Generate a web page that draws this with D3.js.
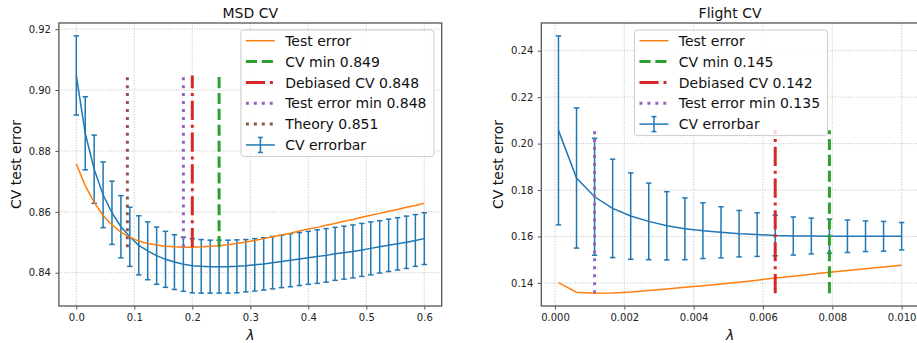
<!DOCTYPE html>
<html>
<head>
<meta charset="utf-8">
<script src="https://cdn.jsdelivr.net/npm/d3@7"></script>
<style>
  body { margin: 0; background: #fff; overflow: hidden; }
  text { font-family: "DejaVu Sans", sans-serif; }
</style>
</head>
<body>
<script>
/* DATA */
// MSD panel
var msdLambda = [0, 0.0154, 0.0308, 0.0462, 0.0615, 0.0769, 0.0923, 0.1077, 0.1231, 0.1385,
  0.1538, 0.1692, 0.1846, 0.2, 0.2154, 0.2308, 0.2462, 0.2615, 0.2769, 0.2923,
  0.3077, 0.3231, 0.3385, 0.3538, 0.3692, 0.3846, 0.4, 0.4154, 0.4308, 0.4462,
  0.4615, 0.4769, 0.4923, 0.5077, 0.5231, 0.5385, 0.5538, 0.5692, 0.5846, 0.6];
var msdCv = [0.9048, 0.8858, 0.874, 0.8656, 0.8597, 0.8551, 0.8518, 0.849, 0.8472, 0.8456,
  0.8444, 0.8435, 0.8428, 0.8423, 0.8421, 0.842, 0.842, 0.842, 0.8421, 0.8423,
  0.8426, 0.8429, 0.8433, 0.8437, 0.8441, 0.8445, 0.8449, 0.8453, 0.8457, 0.8462,
  0.8466, 0.847, 0.8475, 0.848, 0.8485, 0.849, 0.8495, 0.85, 0.8506, 0.8512];
var msdCvErr = [0.013, 0.012, 0.0112, 0.0108, 0.0104, 0.0102, 0.0097, 0.0097, 0.0095, 0.0094,
  0.0092, 0.009, 0.0089, 0.0089, 0.0088, 0.0087, 0.0087, 0.0087, 0.0087, 0.0086,
  0.0086, 0.0086, 0.0086, 0.0086, 0.0087, 0.0087, 0.0087, 0.0088, 0.0088, 0.0087,
  0.0087, 0.0087, 0.0087, 0.0087, 0.0086, 0.0086, 0.0086, 0.0086, 0.0085, 0.0085];
var msdTest = [0.8757, 0.8686, 0.8631, 0.8588, 0.8557, 0.8533, 0.8517, 0.8504, 0.8496, 0.8491,
  0.8487, 0.8485, 0.8484, 0.8484, 0.8485, 0.8487, 0.8489, 0.8492, 0.8496, 0.8501,
  0.8506, 0.8512, 0.8518, 0.8524, 0.853, 0.8537, 0.8544, 0.8549, 0.8556, 0.8562,
  0.8569, 0.8575, 0.8582, 0.8589, 0.8595, 0.8602, 0.8608, 0.8615, 0.8621, 0.8628];
var msdMarkLabels = ["CV min 0.849", "Debiased CV 0.848", "Test error min 0.848", "Theory 0.851"];
var msdMarkX = [0.2462, 0.2, 0.1846, 0.088];
var msdXTicks = [0, 0.1, 0.2, 0.3, 0.4, 0.5, 0.6];
var msdYTicks = [0.84, 0.86, 0.88, 0.90, 0.92];

// Flight panel
var flightLambda = [0.0001, 0.000621, 0.001142, 0.001663, 0.002184, 0.002705, 0.003226, 0.003747,
  0.004268, 0.004789, 0.00531, 0.005832, 0.006353, 0.006874, 0.007395, 0.007916, 0.008437,
  0.008958, 0.009479, 0.01];
var flightCv = [0.2057, 0.1852, 0.1771, 0.1721, 0.1688, 0.1665, 0.1646, 0.1633, 0.1625, 0.1618,
  0.1612, 0.1608, 0.1604, 0.1602, 0.1602, 0.1601, 0.1601, 0.1601, 0.1601, 0.1601];
var flightCvErr = [0.0407, 0.0302, 0.0252, 0.0212, 0.0186, 0.0165, 0.0147, 0.0133, 0.012, 0.011,
  0.01, 0.0094, 0.0087, 0.0082, 0.0077, 0.0073, 0.007, 0.0066, 0.0064, 0.0059];
var flightTest = [0.1401, 0.136, 0.1356, 0.1357, 0.1361, 0.1367, 0.1374, 0.1381, 0.1388, 0.1395,
  0.1403, 0.1412, 0.1421, 0.1429, 0.1437, 0.1446, 0.1454, 0.1461, 0.1469, 0.1476];
var flightMarkLabels = ["CV min 0.145", "Debiased CV 0.142", "Test error min 0.135"];
var flightMarkX = [0.007916, 0.006353, 0.001142];
var flightXTicks = [0, 0.002, 0.004, 0.006, 0.008, 0.010];
var flightYTicks = [0.14, 0.16, 0.18, 0.20, 0.22, 0.24];

/* STYLES */
var blue = "#1f77b4", orange = "#ff7f0e";
// one style per vertical marker, in label order
var markStyles = [
  {color: "#2ca02c", dash: "11.1,4.8"},
  {color: "#d62728", dash: "19.2,4.8,3,4.8"},
  {color: "#9467bd", dash: "3,4.95"},
  {color: "#8c564b", dash: "3,4.95"}
];
var spineColor = "#555";

var svg = d3.select("body").append("svg")
  .attr("width", 917)
  .attr("height", 343);

function drawPanel(p) {
  var x = d3.scaleLinear().range([p.x0, p.x1]);
  var y = d3.scaleLinear().range([p.y1, p.y0]);

  // matplotlib style 5% margins
  var xe = d3.extent(p.lambda);
  var xpad = (xe[1] - xe[0]) * 0.05;
  x.domain([xe[0] - xpad, xe[1] + xpad]);
  var lows = p.cv.map(function(d, i) { return d - p.err[i]; });
  var highs = p.cv.map(function(d, i) { return d + p.err[i]; });
  var ylo = Math.min(d3.min(lows), d3.min(p.test));
  var yhi = Math.max(d3.max(highs), d3.max(p.test));
  var ypad = (yhi - ylo) * 0.05;
  y.domain([ylo - ypad, yhi + ypad]);

  var g = svg.append("g");

  // grid
  g.selectAll(".gx").data(p.xTicks).enter().append("line")
    .attr("x1", function(d) { return x(d); }).attr("x2", function(d) { return x(d); })
    .attr("y1", p.y0).attr("y2", p.y1)
    .attr("stroke", "#b0b0b0").attr("stroke-width", 0.8).attr("stroke-dasharray", "1,1.6");
  g.selectAll(".gy").data(p.yTicks).enter().append("line")
    .attr("x1", p.x0).attr("x2", p.x1)
    .attr("y1", function(d) { return y(d); }).attr("y2", function(d) { return y(d); })
    .attr("stroke", "#b0b0b0").attr("stroke-width", 0.8).attr("stroke-dasharray", "1,1.6");

  // error bars
  var eb = g.append("g").attr("stroke", blue).attr("stroke-width", 1.5);
  p.lambda.forEach(function(l, i) {
    var cx = x(l);
    eb.append("line").attr("x1", cx).attr("x2", cx).attr("y1", y(lows[i])).attr("y2", y(highs[i]));
    eb.append("line").attr("x1", cx - 2.7).attr("x2", cx + 2.7).attr("y1", y(lows[i])).attr("y2", y(lows[i]));
    eb.append("line").attr("x1", cx - 2.7).attr("x2", cx + 2.7).attr("y1", y(highs[i])).attr("y2", y(highs[i]));
  });
  var line = d3.line().x(function(d) { return x(d[0]); }).y(function(d) { return y(d[1]); });
  g.append("path")
    .attr("d", line(d3.zip(p.lambda, p.cv)))
    .attr("fill", "none").attr("stroke", blue).attr("stroke-width", 1.5);

  // test error
  g.append("path")
    .attr("d", line(d3.zip(p.lambda, p.test)))
    .attr("fill", "none").attr("stroke", orange).attr("stroke-width", 1.5);

  // vertical markers span min test error .. max cv
  var vlo = d3.min(p.test), vhi = d3.max(p.cv);
  p.markX.forEach(function(mx, i) {
    g.append("line")
      .attr("x1", x(mx)).attr("x2", x(mx))
      .attr("y1", y(vlo)).attr("y2", y(vhi))
      .attr("stroke", markStyles[i].color).attr("stroke-width", 3)
      .attr("stroke-dasharray", markStyles[i].dash);
  });

  // spines
  g.append("rect")
    .attr("x", p.x0).attr("y", p.y0)
    .attr("width", p.x1 - p.x0).attr("height", p.y1 - p.y0)
    .attr("fill", "none").attr("stroke", spineColor).attr("stroke-width", 1.3);

  // axes
  var xAxis = g.append("g")
    .attr("transform", "translate(0," + p.y1 + ")")
    .call(d3.axisBottom(x).tickValues(p.xTicks).tickFormat(d3.format(p.xFmt)).tickSize(3.5).tickPadding(4.5));
  var yAxis = g.append("g")
    .attr("transform", "translate(" + p.x0 + ",0)")
    .call(d3.axisLeft(y).tickValues(p.yTicks).tickFormat(d3.format(".2f")).tickSize(3.5).tickPadding(4.5));
  [xAxis, yAxis].forEach(function(a) {
    a.select(".domain").remove();
    a.selectAll("line").attr("stroke", spineColor).attr("stroke-width", 1);
    a.selectAll("text").attr("fill", "#222").style("font-size", "10px")
      .style("font-family", "'DejaVu Sans', sans-serif");
  });

  // titles and labels
  var cx = (p.x0 + p.x1) / 2;
  if (p.clipRight) cx = p.titleX;
  g.append("text").attr("x", cx).attr("y", 17.5)
    .attr("text-anchor", "middle").style("font-size", "14px").attr("fill", "#111")
    .text(p.title);
  g.append("text").attr("x", cx).attr("y", 339.5)
    .attr("text-anchor", "middle").style("font-size", "14px").style("font-style", "italic")
    .attr("fill", "#111").text("λ");
  g.append("text")
    .attr("transform", "translate(" + (p.x0 - 38) + "," + ((p.y0 + p.y1) / 2) + ") rotate(-90)")
    .attr("text-anchor", "middle").style("font-size", "14px").attr("fill", "#111")
    .text("CV test error");

  // legend
  var entries = [{label: "Test error", kind: "test"}];
  p.markLabels.forEach(function(l, i) { entries.push({label: l, kind: "mark", i: i}); });
  entries.push({label: "CV errorbar", kind: "err"});

  var lg = g.append("g");
  var box = lg.append("rect");
  var rowH = 20.85, top = p.y0 + 7;
  var texts = [];
  entries.forEach(function(e, k) {
    var ry = top + 10.7 + k * rowH;
    var row = lg.append("g").attr("class", "lrow").attr("data-y", ry);
    if (e.kind === "test") {
      row.append("line").attr("x1", 5).attr("x2", 34).attr("y1", ry).attr("y2", ry)
        .attr("stroke", orange).attr("stroke-width", 1.5);
    } else if (e.kind === "mark") {
      row.append("line").attr("x1", 5).attr("x2", 34).attr("y1", ry).attr("y2", ry)
        .attr("stroke", markStyles[e.i].color).attr("stroke-width", 3)
        .attr("stroke-dasharray", markStyles[e.i].dash);
    } else {
      row.append("line").attr("x1", 5).attr("x2", 34).attr("y1", ry).attr("y2", ry)
        .attr("stroke", blue).attr("stroke-width", 1.5);
      row.append("line").attr("x1", 19.5).attr("x2", 19.5).attr("y1", ry - 7.5).attr("y2", ry + 7.5)
        .attr("stroke", blue).attr("stroke-width", 1.5);
      row.append("line").attr("x1", 17).attr("x2", 22).attr("y1", ry - 7.5).attr("y2", ry - 7.5)
        .attr("stroke", blue).attr("stroke-width", 1.5);
      row.append("line").attr("x1", 17).attr("x2", 22).attr("y1", ry + 7.5).attr("y2", ry + 7.5)
        .attr("stroke", blue).attr("stroke-width", 1.5);
    }
    var t = row.append("text").attr("x", 44.3).attr("y", ry + 5.1)
      .style("font-size", "14px").attr("fill", "#111").text(e.label);
    texts.push(t);
  });
  var maxLen = d3.max(texts, function(t) { return t.node().getComputedTextLength(); });
  var w = 44.3 + maxLen + 7.5;
  var h = 10.7 + (entries.length - 1) * rowH + 11.5;
  var lx = p.legendAlign === "right" ? p.x1 - 7.7 - w : p.legendCenter - w / 2;
  box.attr("x", 0).attr("y", top).attr("width", w).attr("height", h)
    .attr("rx", 3).attr("fill", "#fff").attr("fill-opacity", 0.8)
    .attr("stroke", "#cccccc").attr("stroke-width", 1);
  lg.attr("transform", "translate(" + lx + ",0)");
}

drawPanel({
  title: "MSD CV",
  lambda: msdLambda, cv: msdCv, err: msdCvErr, test: msdTest,
  markLabels: msdMarkLabels, markX: msdMarkX,
  xTicks: msdXTicks, yTicks: msdYTicks, xFmt: ".1f",
  x0: 58.9, x1: 441.7, y0: 23, y1: 306,
  legendAlign: "right"
});

drawPanel({
  title: "Flight CV",
  lambda: flightLambda, cv: flightCv, err: flightCvErr, test: flightTest,
  markLabels: flightMarkLabels, markX: flightMarkX,
  xTicks: flightXTicks, yTicks: flightYTicks, xFmt: ".3f",
  x0: 541.3, x1: 918.8, y0: 23, y1: 306,
  legendAlign: "center", legendCenter: 731
});
</script>
</body>
</html>
